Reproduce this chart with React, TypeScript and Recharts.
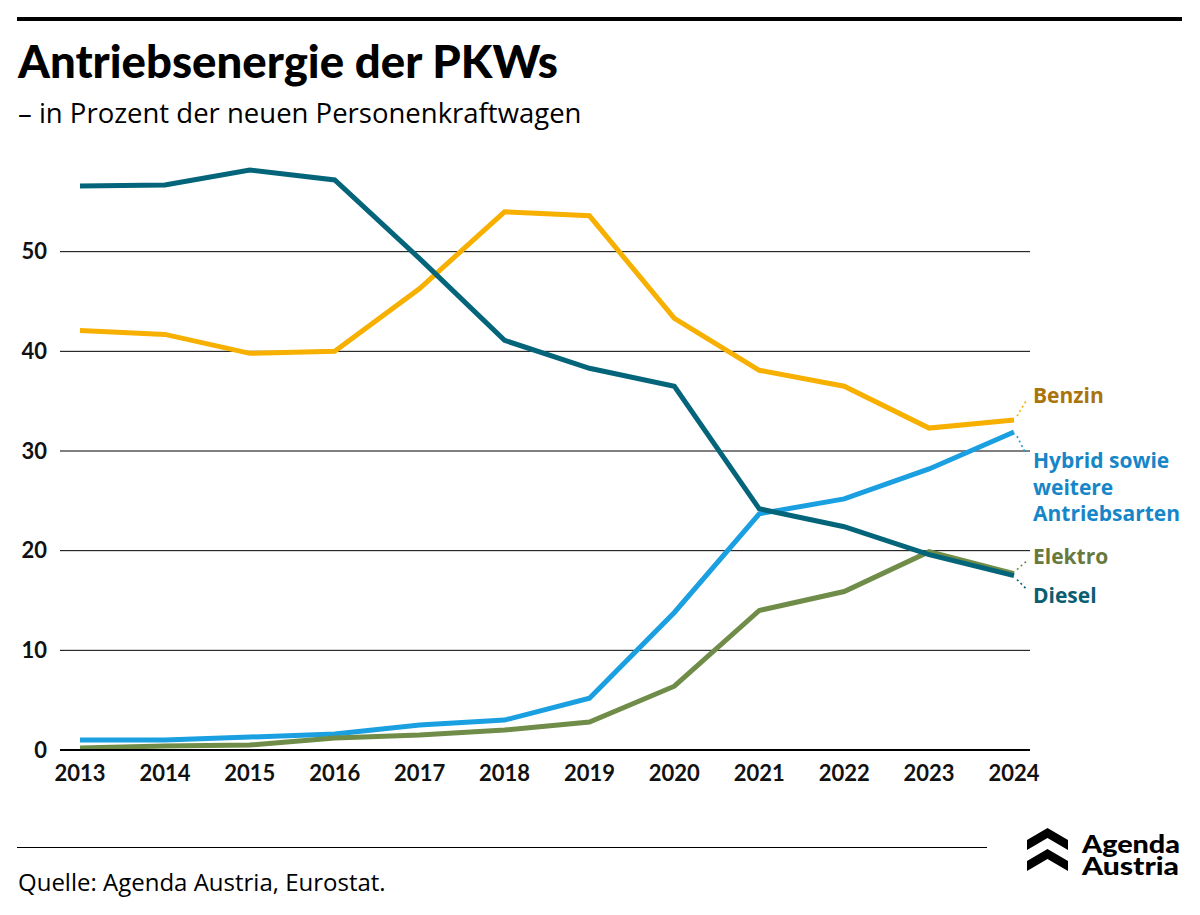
import { LineChart, Line, XAxis, YAxis, CartesianGrid } from 'recharts';

const years = ['2013', '2014', '2015', '2016', '2017', '2018', '2019', '2020', '2021', '2022', '2023', '2024'];
const benzin = [42.1, 41.7, 39.8, 40.0, 46.3, 54.0, 53.6, 43.3, 38.1, 36.5, 32.3, 33.1];
const diesel = [56.6, 56.7, 58.2, 57.2, 49.3, 41.1, 38.3, 36.5, 24.2, 22.4, 19.6, 17.5];
const hybrid = [1.0, 1.0, 1.3, 1.6, 2.5, 3.0, 5.2, 13.8, 23.7, 25.2, 28.2, 31.9];
const elektro = [0.2, 0.4, 0.5, 1.2, 1.5, 2.0, 2.8, 6.4, 14.0, 15.9, 19.9, 17.7];
const yTicks = [0, 10, 20, 30, 40, 50];

const data = years.map((year, i) => ({
  year,
  benzin: benzin[i],
  diesel: diesel[i],
  hybrid: hybrid[i],
  elektro: elektro[i],
}));

const FONT = 'Lato, "Open Sans", sans-serif';
const TEXT_FONT = '"Open Sans", Lato, sans-serif';

type LabelCfg = { lines: string[]; dy: number; color: string; textColor: string };

const labels: Record<string, LabelCfg> = {
  benzin: { lines: ['Benzin'], dy: -25, color: '#f7b000', textColor: '#aa740c' },
  hybrid: { lines: ['Hybrid sowie', 'weitere', 'Antriebsarten'], dy: 28, color: '#1a9fe0', textColor: '#1686c8' },
  elektro: { lines: ['Elektro'], dy: -18, color: '#6f8c48', textColor: '#67793c' },
  diesel: { lines: ['Diesel'], dy: 19, color: '#04657a', textColor: '#0a5e72' },
};

function endLabel(key: string) {
  const cfg = labels[key];
  return (p: any) => {
    if (p.index !== years.length - 1) return null;
    const x = Number(p.x);
    const y = Number(p.y);
    const ty = y + cfg.dy;
    return (
      <g key={`lbl-${key}`}>
        <line
          x1={x + 3}
          y1={y + (cfg.dy < 0 ? -4 : 4)}
          x2={x + 12}
          y2={ty + (cfg.dy < 0 ? 6 : -6)}
          stroke={cfg.color}
          strokeWidth={1.6}
          strokeDasharray="2 3"
        />
        <text
          x={x + 19}
          y={ty}
          fill={cfg.textColor}
          fontFamily={TEXT_FONT}
          fontWeight={700}
          fontSize={21}
          dominantBaseline="central"
        >
          {cfg.lines.map((l, i) => (
            <tspan key={i} x={x + 19} dy={i === 0 ? 0 : 26.5}>
              {l}
            </tspan>
          ))}
        </text>
      </g>
    );
  };
}

function Logo() {
  return (
    <svg width={178} height={64} style={{ position: 'absolute', left: 1022, top: 818 }}>
      <polygon points="5,22 25.5,10 46,22 46,32 25.5,20 5,32" fill="#000" />
      <polygon points="5,43 25.5,31 46,43 46,53 25.5,41 5,53" fill="#000" />
      <text fontFamily={FONT} fontWeight={900} fontSize={24} fill="#000">
        <tspan x={60} y={35} textLength={98} lengthAdjust="spacingAndGlyphs">Agenda</tspan>
        <tspan x={60} y={57} textLength={97} lengthAdjust="spacingAndGlyphs">Austria</tspan>
      </text>
    </svg>
  );
}

export default function App() {
  return (
    <div
      style={{
        position: 'absolute',
        left: 0,
        top: 0,
        width: 1200,
        height: 915,
        background: '#fff',
        fontFamily: FONT,
        color: '#000',
        overflow: 'hidden',
      }}
    >
      <div style={{ position: 'absolute', left: 17, top: 17, width: 1165, height: 4, background: '#000' }} />
      <div style={{ position: 'absolute', left: 18, top: 34, fontSize: 45.5, fontWeight: 900, lineHeight: '54px', whiteSpace: 'nowrap' }}>
        Antriebsenergie der PKWs
      </div>
      <div style={{ position: 'absolute', left: 18, top: 95, fontSize: 27.5, fontFamily: TEXT_FONT, lineHeight: '36px', whiteSpace: 'nowrap' }}>
        – in Prozent der neuen Personenkraftwagen
      </div>

      <div style={{ position: 'absolute', left: 0, top: 0 }}>
        <LineChart
          width={1200}
          height={915}
          data={data}
          margin={{ top: 152, right: 170, bottom: 135, left: 0 }}
        >
          <CartesianGrid vertical={false} stroke="#000" strokeWidth={1} horizontalValues={yTicks} />
          <XAxis
            dataKey="year"
            height={30}
            padding={{ left: 20, right: 16 }}
            axisLine={{ stroke: '#000', strokeWidth: 2 }}
            tickLine={false}
            tickMargin={9}
            tick={{ fontSize: 22, fontWeight: 700, fill: '#111', fontFamily: FONT }}
            interval={0}
          />
          <YAxis
            width={60}
            domain={[0, 60]}
            ticks={yTicks}
            axisLine={false}
            tickLine={false}
            tickSize={0}
            tickMargin={13}
            tick={{ fontSize: 22, fontWeight: 700, fill: '#111', fontFamily: FONT }}
          />
          <Line
            dataKey="benzin"
            stroke="#f7b000"
            strokeWidth={5}
            dot={false}
            isAnimationActive={false}
            label={endLabel('benzin')}
          />
          <Line
            dataKey="hybrid"
            stroke="#1a9fe0"
            strokeWidth={5}
            dot={false}
            isAnimationActive={false}
            label={endLabel('hybrid')}
          />
          <Line
            dataKey="elektro"
            stroke="#6f8c48"
            strokeWidth={5}
            dot={false}
            isAnimationActive={false}
            label={endLabel('elektro')}
          />
          <Line
            dataKey="diesel"
            stroke="#04657a"
            strokeWidth={5}
            dot={false}
            isAnimationActive={false}
            label={endLabel('diesel')}
          />
        </LineChart>
      </div>

      <div style={{ position: 'absolute', left: 17, top: 847, width: 970, height: 1, background: '#000' }} />
      <div style={{ position: 'absolute', left: 18, top: 866, fontSize: 24, fontFamily: TEXT_FONT, lineHeight: '32px', whiteSpace: 'nowrap' }}>
        Quelle: Agenda Austria, Eurostat.
      </div>
      <Logo />
    </div>
  );
}
